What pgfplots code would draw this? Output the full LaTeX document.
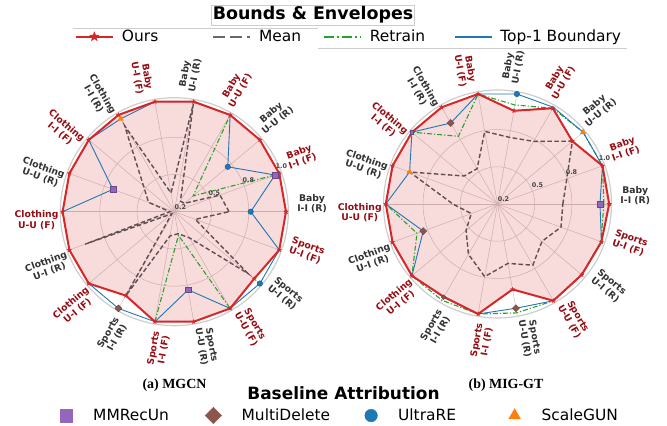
\documentclass[border=0pt]{standalone}
\usepackage{fontspec}
\setmainfont{DejaVu Sans}
\newfontfamily\serifbf{Liberation Serif}
\usepackage{pgfplots}
\usepackage{pgfplotstable}
\pgfplotsset{compat=1.18}

\definecolor{cours}{HTML}{D62728}
\definecolor{cblue}{HTML}{1F77B4}
\definecolor{cgreen}{HTML}{2CA02C}
\definecolor{cmean}{RGB}{95,78,82}
\definecolor{cmeanleg}{RGB}{105,105,105}
\definecolor{cpurple}{HTML}{9467BD}
\definecolor{cbrown}{HTML}{8C564B}
\definecolor{corange}{HTML}{FF7F0E}
\definecolor{cF}{RGB}{150,12,18}
\definecolor{cR}{RGB}{50,50,50}
\definecolor{cgrid}{RGB}{205,200,200}
\definecolor{cframe}{RGB}{205,205,205}
\definecolor{ctick}{RGB}{70,70,70}

\pgfdeclareplotmark{fstar}{%
  \pgfpathmoveto{\pgfpointpolar{90}{\pgfplotmarksize}}%
  \pgfpathlineto{\pgfpointpolar{126}{0.42\pgfplotmarksize}}%
  \pgfpathlineto{\pgfpointpolar{162}{\pgfplotmarksize}}%
  \pgfpathlineto{\pgfpointpolar{198}{0.42\pgfplotmarksize}}%
  \pgfpathlineto{\pgfpointpolar{234}{\pgfplotmarksize}}%
  \pgfpathlineto{\pgfpointpolar{270}{0.42\pgfplotmarksize}}%
  \pgfpathlineto{\pgfpointpolar{306}{\pgfplotmarksize}}%
  \pgfpathlineto{\pgfpointpolar{342}{0.42\pgfplotmarksize}}%
  \pgfpathlineto{\pgfpointpolar{18}{\pgfplotmarksize}}%
  \pgfpathlineto{\pgfpointpolar{54}{0.42\pgfplotmarksize}}%
  \pgfpathclose
  \pgfusepathqfillstroke}

\pgfdeclareplotmark{ftri}{%
  \pgfpathmoveto{\pgfpointpolar{90}{\pgfplotmarksize}}%
  \pgfpathlineto{\pgfpointpolar{210}{\pgfplotmarksize}}%
  \pgfpathlineto{\pgfpointpolar{330}{\pgfplotmarksize}}%
  \pgfpathclose
  \pgfusepathqfill}

\pgfplotsset{
  /pgfplots/table/rad/.style={
    x expr={(\thisrow{#1}-0.2)/0.8*cos(\thisrow{a})},
    y expr={(\thisrow{#1}-0.2)/0.8*sin(\thisrow{a})}},
  radar/.style={scale only axis, width=290.42bp, height=290.42bp,
    xmin=-1.3, xmax=1.3, ymin=-1.3, ymax=1.3, hide axis, clip=false, anchor=center},
  meanst/.style={cmean, line width=1.4bp, dash pattern=on 4.5bp off 2.5bp},
  retst/.style={cgreen, line width=1.1bp, dash pattern=on 5bp off 2bp on 1.2bp off 2bp},
  topst/.style={cblue, line width=0.9bp},
  oursst/.style={cours, line width=2bp, mark=fstar, mark size=2.3bp, mark options={solid, line width=0.2bp}},
  msq/.style={only marks, mark=square*, mark size=2.8bp, color=cpurple, mark options={draw=cpurple!70!black, line width=0.3bp}},
  mdi/.style={only marks, mark=square*, mark size=2.5bp, color=cbrown, mark options={rotate=45, draw=cbrown!70!black, line width=0.3bp}},
  mci/.style={only marks, mark=*, mark size=2.8bp, color=cblue, mark options={draw=cblue!70!black, line width=0.3bp}},
  mtr/.style={only marks, mark=ftri, mark size=3.6bp, color=corange},
}

% Left chart (MGCN)
\pgfplotstableread{
a ours mean top
0 1.0 0.592 0.747
20 1.0 0.548 0.968
40 1.0 0.293 0.700
60 1.0 0.288 1.0
80 1.0 0.984 1.0
100 1.0 0.336 1.0
120 1.0 0.912 0.968
140 1.0 0.488 1.0
160 1.0 0.396 0.668
180 1.0 0.232 1.0
200 1.0 0.880 1.0
220 1.0 0.224 1.0
240 0.894 0.896 1.0
260 1.0 0.376 1.0
280 1.0 0.360 0.768
300 1.0 0.416 1.0
320 0.947 0.888 1.0
340 1.0 0.360 1.0
360 1.0 0.592 0.747
}\tabL

% Right chart (MIG-GT)
\pgfplotstableread{
a ours mean ret top
0 1.0 0.668 0.962 0.934
20 1.0 0.728 1.0 1.0
40 0.9 0.9 1.0 1.0
60 0.992 0.718 0.992 1.0
80 0.878 0.685 0.92 1.0
100 1.0 0.728 1.0 1.0
120 1.0 0.492 0.76 0.87
140 1.0 0.512 1.0 1.0
160 1.0 0.87 1.0 0.87
180 1.0 0.52 1.0 1.0
200 1.0 0.40 0.814 0.766
220 1.0 0.494 1.0 1.0
240 0.968 0.616 0.996 0.972
260 1.0 0.728 1.0 1.0
280 0.821 0.632 0.992 0.958
300 1.0 0.706 1.0 1.0
320 0.988 0.616 0.988 0.988
340 0.992 0.684 0.988 0.992
360 1.0 0.668 0.962 0.934
}\tabR

\newcommand\labfont{\fontsize{9.3}{10.3}\selectfont\bfseries}
\newcommand\tickfont{\fontsize{6.5}{7}\selectfont\bfseries}

\begin{document}
\begin{tikzpicture}
\path[use as bounding box] (0,0) rectangle (667bp,-426bp);

% grids
\foreach \cx/\cy in {174.3/-211.7, 497.5/-204}{
  \begin{scope}[shift={(\cx bp,\cy bp)}]
    \foreach \t in {0,20,...,340} \draw[cgrid, line width=0.5bp] (0,0) -- (\t:114bp);
    \draw[cgrid, line width=0.5bp] (0,0) circle[radius=37.23bp];
    \draw[cgrid, line width=0.5bp] (0,0) circle[radius=74.47bp];
    \draw[cframe, line width=1.2bp] (0,0) circle[radius=114bp];
  \end{scope}
}

% left radar
\begin{axis}[radar, at={(174.3bp,-211.7bp)}]
\addplot[draw=none, fill=cours, fill opacity=0.17] table[rad=ours]{\tabL};
\addplot[meanst] table[rad=mean]{\tabL};
\addplot[retst] table[row sep=\\, rad=v]{a v\\ 20 0.968\\ 40 0.376\\ 60 1.0\\};
\addplot[retst] table[row sep=\\, rad=v]{a v\\ 260 1.0\\ 280 0.372\\ 300 1.0\\};
\addplot[topst] table[rad=top]{\tabL};
\addplot[oursst] table[rad=ours]{\tabL};
\addplot[msq] table[row sep=\\, rad=v]{a v\\ 20 0.968\\ 160 0.668\\ 280 0.768\\};
\addplot[mdi] table[row sep=\\, rad=v]{a v\\ 240 1.0\\};
\addplot[mci] table[row sep=\\, rad=v]{a v\\ 0 0.747\\ 40 0.700\\ 320 1.0\\};
\addplot[mtr] table[row sep=\\, rad=v]{a v\\ 120 0.968\\};
\end{axis}

% right radar
\begin{axis}[radar, at={(497.5bp,-204bp)}]
\addplot[draw=none, fill=cours, fill opacity=0.17] table[rad=ours]{\tabR};
\addplot[meanst] table[rad=mean]{\tabR};
\addplot[retst] table[rad=ret]{\tabR};
\addplot[topst] table[rad=top]{\tabR};
\addplot[oursst] table[rad=ours]{\tabR};
\addplot[msq] table[row sep=\\, rad=v]{a v\\ 0 0.934\\};
\addplot[msq, mark size=1.6bp] table[row sep=\\, rad=v]{a v\\ 140 1.0\\};
\addplot[mdi] table[row sep=\\, rad=v]{a v\\ 120 0.87\\ 200 0.766\\ 280 0.958\\};
\addplot[mdi, mark size=1.6bp] table[row sep=\\, rad=v]{a v\\ 240 0.972\\};
\addplot[mci] table[row sep=\\, rad=v]{a v\\ 80 1.0\\};
\addplot[mtr] table[row sep=\\, rad=v]{a v\\ 40 1.0\\ 160 0.87\\};
\end{axis}

% category labels and radial tick labels
\foreach \cx/\cy in {174.3/-211.7, 497.5/-204}{
  \foreach \a/\n/\s/\c in {0/Baby/I-I (R)/cR, 20/Baby/I-I (F)/cF, 40/Baby/U-U (R)/cR,
     60/Baby/U-U (F)/cF, 80/Baby/U-I (R)/cR, 100/Baby/U-I (F)/cF,
     120/Clothing/I-I (R)/cR, 140/Clothing/I-I (F)/cF, 160/Clothing/U-U (R)/cR,
     180/Clothing/U-U (F)/cF, 200/Clothing/U-I (R)/cR, 220/Clothing/U-I (F)/cF,
     240/Sports/I-I (R)/cR, 260/Sports/I-I (F)/cF, 280/Sports/U-U (R)/cR,
     300/Sports/U-U (F)/cF, 320/Sports/U-I (R)/cR, 340/Sports/U-I (F)/cF}{
    \pgfmathsetmacro\rot{(\a>90)*(\a<270)*(-180)+\a}
    \node[rotate=\rot, align=center, text=\c, font=\labfont, inner sep=0pt]
      at ([shift={(\a+3.5:138bp)}]\cx bp,\cy bp) {\n\\\s};
  }
  \node[font=\tickfont, text=ctick, inner sep=0pt] at ([shift={(6bp,4.5bp)}]\cx bp,\cy bp) {0.2};
  \node[font=\tickfont, text=ctick, inner sep=0pt] at ([shift={(40bp,18.5bp)}]\cx bp,\cy bp) {0.5};
  \node[font=\tickfont, text=ctick, inner sep=0pt] at ([shift={(74bp,32bp)}]\cx bp,\cy bp) {0.8};
  \node[font=\tickfont, text=ctick, inner sep=0pt] at ([shift={(107bp,46bp)}]\cx bp,\cy bp) {1.0};
}

% top legend
\draw[cframe, line width=0.8bp] (72.5bp,-28.3bp) -- (318bp,-28.3bp);
\draw[cframe, line width=0.8bp] (318bp,-48.3bp) -- (627bp,-48.3bp);
\node[draw=cframe, line width=0.8bp, fill=white, inner sep=1.5bp, font=\fontsize{17.5}{20}\selectfont\bfseries] at (313bp,-15bp) {Bounds \& Envelopes};

\begin{axis}[at={(0,0)}, anchor=north west, scale only axis, width=667bp, height=426bp,
  xmin=0, xmax=1, ymin=0, ymax=1, hide axis, legend columns=4,
  legend style={at={(0.1118,0.9138)}, anchor=west, draw=none, fill=none, inner sep=0pt,
    font=\fontsize{15.5}{16}\selectfont, nodes={inner sep=0pt},
    /tikz/every odd column/.style={column sep=8bp},
    /tikz/every even column/.style={column sep=0bp}},
  legend image code/.code={\draw[mark repeat=2,mark phase=2,#1] plot coordinates {(0bp,0bp) (18.5bp,0bp) (37bp,0bp)};}]
\addlegendimage{cours, line width=2.2bp, mark=fstar, mark size=5bp, mark options={solid, line width=0.3bp}}
\addlegendentry{\makebox[90bp][l]{Ours}}
\addlegendimage{cmeanleg, line width=2.2bp, dash pattern=on 12bp off 5bp}
\addlegendentry{\makebox[64bp][l]{Mean}}
\addlegendimage{cgreen, line width=1.6bp, dash pattern=on 10bp off 3bp on 2bp off 3bp}
\addlegendentry{\makebox[84bp][l]{Retrain}}
\addlegendimage{cblue, line width=1.6bp}
\addlegendentry{Top-1 Boundary}
\end{axis}

% bottom texts and legend
\node[font=\serifbf\fontsize{14}{16}\selectfont\bfseries] at (174.5bp,-385bp) {(a) MGCN};
\node[font=\serifbf\fontsize{14}{16}\selectfont\bfseries] at (506bp,-385bp) {(b) MIG-GT};
\node[font=\fontsize{17}{19}\selectfont\bfseries] at (343.5bp,-393.5bp) {Baseline Attribution};

\begin{axis}[at={(0,0)}, anchor=north west, scale only axis, width=667bp, height=426bp,
  xmin=0, xmax=1, ymin=0, ymax=1, hide axis, legend columns=4,
  legend style={at={(0.0885,0.0246)}, anchor=west, draw=none, fill=none, inner sep=0pt,
    font=\fontsize{15.5}{16}\selectfont, nodes={inner sep=0pt},
    /tikz/every odd column/.style={column sep=20bp},
    /tikz/every even column/.style={column sep=0bp}},
  legend image code/.code={\path[draw=none, fill=none] (0bp,-7bp) rectangle (14bp,7bp); \path[#1, draw=none] plot coordinates {(7bp,0bp)};}]
\addlegendimage{cpurple, mark=square*, mark size=6.2bp, mark options={draw=cpurple, line width=0.4bp}}
\addlegendentry{\makebox[112bp][l]{MMRecUn}}
\addlegendimage{cbrown, mark=square*, mark size=5.8bp, mark options={draw=cbrown, rotate=45, line width=0.4bp}}
\addlegendentry{\makebox[122.5bp][l]{MultiDelete}}
\addlegendimage{cblue, mark=*, mark size=6.3bp, mark options={draw=cblue, line width=0.4bp}}
\addlegendentry{\makebox[109.5bp][l]{UltraRE}}
\addlegendimage{corange, mark=ftri, mark size=7.3bp}
\addlegendentry{ScaleGUN}
\end{axis}
\end{tikzpicture}
\end{document}
